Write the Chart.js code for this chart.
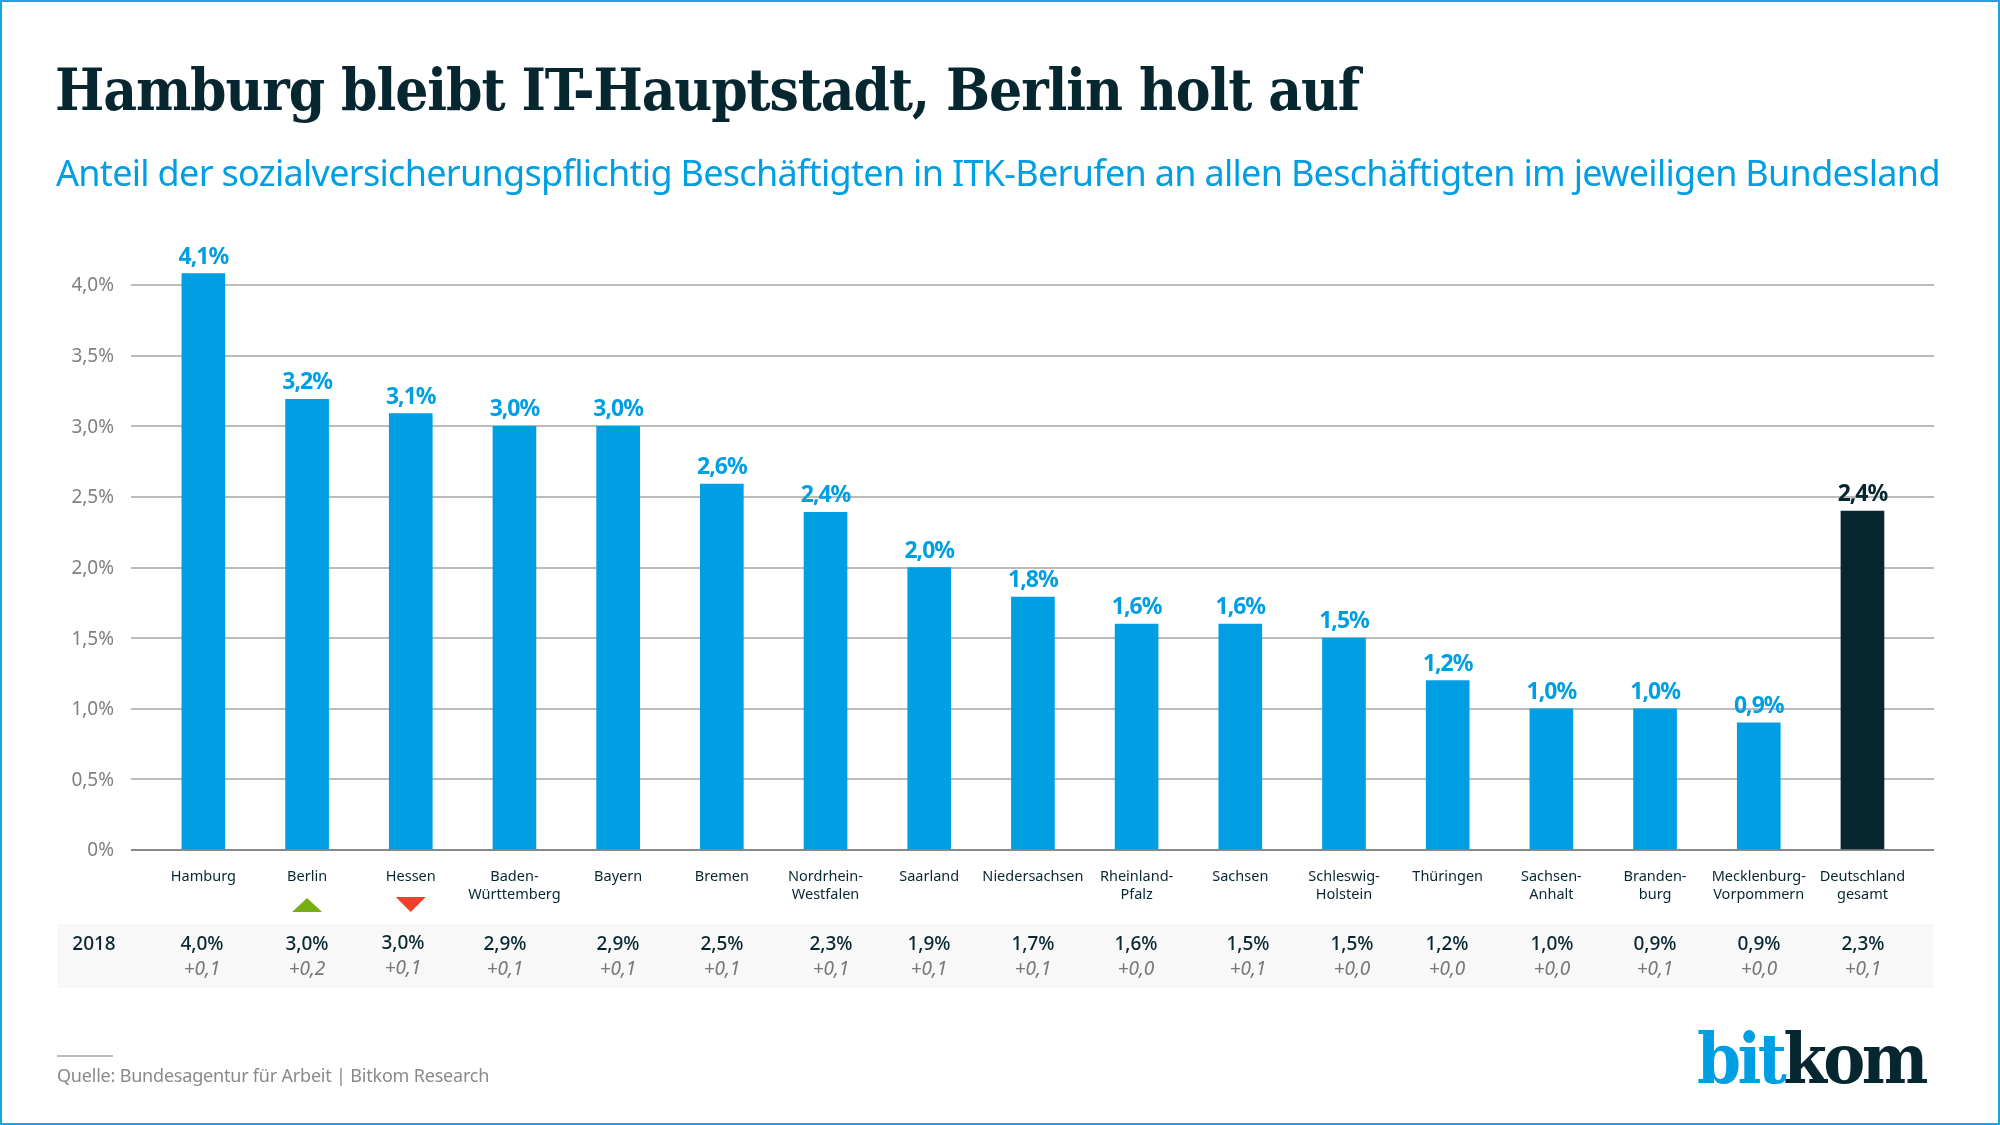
<!DOCTYPE html>
<html lang="de">
<head>
<meta charset="utf-8">
<title>Hamburg bleibt IT-Hauptstadt, Berlin holt auf</title>
<script src="https://cdn.jsdelivr.net/npm/chart.js@4"></script>
<style>
  html, body { margin: 0; padding: 0; background: #fff; }
  #page { position: relative; width: 2000px; height: 1125px; overflow: hidden; box-sizing: border-box; border: 2px solid #1aa3e0; }
  #page canvas { position: absolute; left: -2px; top: -2px; }
  .txt { position: absolute; white-space: nowrap; margin: 0; }
  #title { left: 53px; top: 48px; font: bold 58px/80px "DejaVu Serif Condensed", "DejaVu Serif", serif; color: #062630; letter-spacing: -1.1px; }
  #subtitle { left: 54px; top: 146px; font: 36px/50px "Noto Sans", sans-serif; color: #009fe3; letter-spacing: -0.7px; }
  #source { left: 55px; top: 1060px; font: 18px/26px "Noto Sans", sans-serif; color: #8a8a8a; letter-spacing: -0.2px; }
  #rule { position: absolute; left: 55px; top: 1053px; width: 56px; height: 2px; background: #bbb; }
  #logo { left: 1695px; top: 1012px; font: bold 70px/90px "DejaVu Serif Condensed", "DejaVu Serif", serif; color: #062630; letter-spacing: -3.6px; }
  #logo span { color: #009fe3; }
</style>
</head>
<body>
<div id="page">
  <canvas id="chart" width="2000" height="1125"></canvas>
  <h1 class="txt" id="title">Hamburg bleibt IT-Hauptstadt, Berlin holt auf</h1>
  <p class="txt" id="subtitle">Anteil der sozialversicherungspflichtig Beschäftigten in ITK-Berufen an allen Beschäftigten im jeweiligen Bundesland</p>
  <div id="rule"></div>
  <p class="txt" id="source">Quelle: Bundesagentur für Arbeit | Bitkom Research</p>
  <div class="txt" id="logo"><span>bit</span>kom</div>
</div>
<script>
/* Chart data */
const categories = [
  ['Hamburg'], ['Berlin'], ['Hessen'], ['Baden-', 'Württemberg'], ['Bayern'], ['Bremen'],
  ['Nordrhein-', 'Westfalen'], ['Saarland'], ['Niedersachsen'], ['Rheinland-', 'Pfalz'], ['Sachsen'],
  ['Schleswig-', 'Holstein'], ['Thüringen'], ['Sachsen-', 'Anhalt'], ['Branden-', 'burg'],
  ['Mecklenburg-', 'Vorpommern'], ['Deutschland', 'gesamt'],
];
/* bar heights; labels round them to one decimal */
const values2019 = [4.08, 3.19, 3.09, 3.0, 3.0, 2.59, 2.39, 2.0, 1.79, 1.6, 1.6, 1.5, 1.2, 1.0, 1.0, 0.9, 2.4];
const values2018 = ['4,0%', '3,0%', '3,0%', '2,9%', '2,9%', '2,5%', '2,3%', '1,9%', '1,7%', '1,6%', '1,5%', '1,5%', '1,2%', '1,0%', '0,9%', '0,9%', '2,3%'];
const changes = ['+0,1', '+0,2', '+0,1', '+0,1', '+0,1', '+0,1', '+0,1', '+0,1', '+0,1', '+0,0', '+0,1', '+0,0', '+0,0', '+0,0', '+0,1', '+0,0', '+0,1'];
const rankUp = ['Berlin'];
const rankDown = ['Hessen'];
const tableLabel = '2018';

/* The table columns do not sit exactly under the bars in the original */
const tableColumnX = [202, 307, 403, 505, 618, 722, 831, 929, 1033, 1136, 1248, 1352, 1447, 1552, 1655, 1759, 1863];

const BLUE = '#009fe3';
const DARK = '#062630';
const FONT = '"Noto Sans", sans-serif';

const fmt = v => v.toFixed(1).replace('.', ',') + '%';

/* Value labels above the bars */
const barLabels = {
  id: 'barLabels',
  afterDatasetsDraw(chart) {
    const { ctx } = chart;
    ctx.save();
    ctx.textAlign = 'center';
    ctx.textBaseline = 'alphabetic';
    ctx.font = `bold 23px ${FONT}`;
    ctx.letterSpacing = '-1px';
    chart.getDatasetMeta(0).data.forEach((bar, i) => {
      ctx.fillStyle = i === values2019.length - 1 ? DARK : BLUE;
      ctx.fillText(fmt(values2019[i]), bar.x, bar.y - 10);
    });
    ctx.restore();
  }
};

/* Grey band with the previous year's values, and the rank arrows */
const yearTable = {
  id: 'yearTable',
  beforeDraw(chart) {
    const { ctx } = chart;
    ctx.save();
    ctx.fillStyle = '#f8f8f8';
    ctx.fillRect(57, 924, 1877, 64);
    ctx.restore();
  },
  afterDraw(chart) {
    const { ctx } = chart;
    const xs = chart.scales.x;
    ctx.save();
    ctx.textAlign = 'center';
    ctx.textBaseline = 'middle';
    ctx.fillStyle = DARK;
    ctx.font = `500 19px ${FONT}`;
    ctx.fillText(tableLabel, 94, 945);
    values2018.forEach((v, i) => {
      const dy = i === 2 ? -1 : 0;
      ctx.fillStyle = DARK;
      ctx.font = `500 19px ${FONT}`;
      ctx.fillText(v, tableColumnX[i], 945 + dy);
      ctx.fillStyle = '#777';
      ctx.font = `italic 19px ${FONT}`;
      ctx.fillText(changes[i], tableColumnX[i], 970 + dy);
    });
    const arrow = (name, color, tip, base) => {
      const x = xs.getPixelForValue(categories.findIndex(c => c[0] === name));
      ctx.fillStyle = color;
      ctx.beginPath();
      ctx.moveTo(x, tip);
      ctx.lineTo(x - 15, base);
      ctx.lineTo(x + 15, base);
      ctx.closePath();
      ctx.fill();
    };
    rankUp.forEach(n => arrow(n, '#77ae14', 898, 912));
    rankDown.forEach(n => arrow(n, '#ec412d', 912, 897));
    ctx.restore();
  }
};

new Chart(document.getElementById('chart'), {
  type: 'bar',
  data: {
    datasets: [{
      data: values2019.map((y, x) => ({ x, y })),
      backgroundColor: values2019.map((_, i) => i === values2019.length - 1 ? DARK : BLUE),
      barThickness: 43,
    }]
  },
  options: {
    responsive: false,
    animation: false,
    devicePixelRatio: 1,
    layout: { padding: { top: 256.75, right: 66, left: 0, bottom: 0 } },
    plugins: { legend: { display: false }, tooltip: { enabled: false }, title: { display: false } },
    scales: {
      x: {
        type: 'linear',
        offset: false,
        min: -0.698,
        max: 16.69,
        afterFit: s => { s.height = 275; },
        afterBuildTicks: s => { s.ticks = categories.map((_, i) => ({ value: i })); },
        grid: { display: false, drawTicks: false },
        border: { display: false },
        ticks: {
          autoSkip: false,
          maxRotation: 0,
          padding: 18,
          color: DARK,
          font: { family: FONT, size: 14.5, lineHeight: 1.24 },
          callback: v => categories[v],
        },
      },
      y: {
        min: 0,
        max: 4.2,
        afterFit: s => { s.width = 131; },
        afterBuildTicks: s => { s.ticks = s.ticks.filter(t => t.value <= 4); },
        grid: {
          color: c => c.tick.value === 0 ? '#888' : '#bbb',
          lineWidth: 2,
          drawTicks: false,
        },
        border: { display: false },
        ticks: {
          stepSize: 0.5,
          padding: 17,
          labelOffset: 1,
          color: '#808080',
          font: { family: FONT, size: 19 },
          callback: v => v === 0 ? '0%' : fmt(v),
        },
      },
    },
  },
  plugins: [yearTable, barLabels],
});
</script>
</body>
</html>
